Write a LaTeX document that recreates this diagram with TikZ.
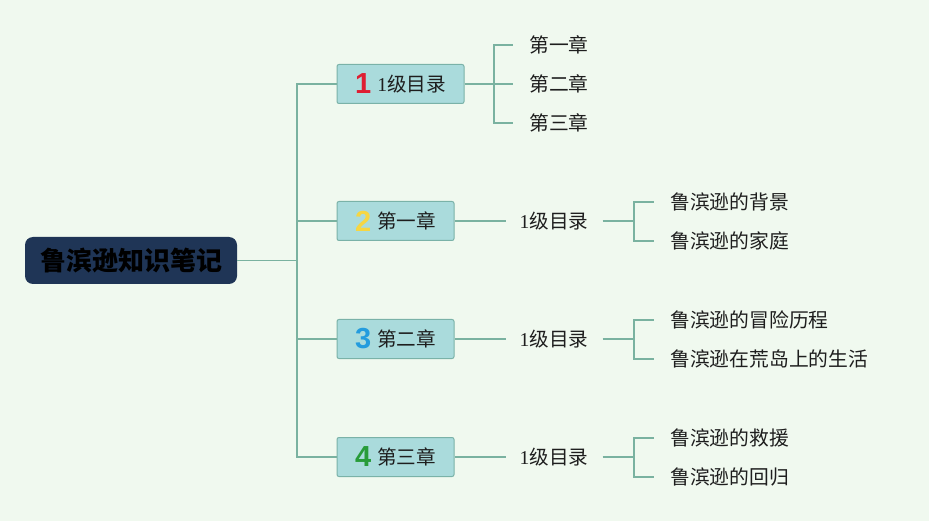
\documentclass[tikz,border=0pt]{standalone}
\usepackage{fontspec}
\setmainfont{Liberation Serif}
\newfontfamily\cjk{Noto Sans CJK SC}
\newfontfamily\digitfont{Liberation Sans}
\definecolor{bg}{RGB}{240,249,239}
\definecolor{rootfill}{RGB}{31,53,86}
\definecolor{boxfill}{RGB}{170,219,220}
\definecolor{boxline}{RGB}{122,178,168}
\definecolor{conncol}{RGB}{122,178,160}
\definecolor{txt}{RGB}{30,30,30}
\definecolor{numred}{RGB}{222,30,50}
\definecolor{numyellow}{RGB}{246,214,66}
\definecolor{numblue}{RGB}{36,156,222}
\definecolor{numgreen}{RGB}{40,156,58}
\newcommand{\numicon}[2]{\raisebox{-2.5pt}{\textcolor{#1}{\digitfont\bfseries\fontsize{29}{30}\selectfont #2}}\hspace{6pt}}
\newcommand{\one}{{\rmfamily 1}}
\tikzset{
  rootbox/.style={draw=none, fill=rootfill, rounded corners=8pt, minimum width=212pt, minimum height=47pt,
    text=black, font=\cjk\bfseries\fontsize{26}{30}\selectfont, inner sep=0pt},
  lvlbox/.style={draw=boxline, line width=1pt, fill=boxfill, rounded corners=2pt, minimum height=39pt,
    inner ysep=0pt, inner xsep=0pt, text=txt, font=\cjk\fontsize{19.6}{22}\selectfont},
  midtext/.style={inner xsep=14pt, inner ysep=2pt, text=txt, font=\cjk\fontsize{19.6}{22}\selectfont},
  leaftext/.style={anchor=west, inner xsep=16pt, inner ysep=2pt, text=txt, font=\cjk\fontsize{19.8}{22}\selectfont},
  conn/.style={draw=conncol, line width=1.3pt},
}
\begin{document}
\begin{tikzpicture}[x=1pt,y=-1pt]
\useasboundingbox (0,0) rectangle (929,521);
\fill[bg] (0,0) rectangle (929,521);

% root
\node[rootbox] (root) at (131,260.5) {鲁滨逊知识笔记};

% level-1 boxes
\node[lvlbox, minimum width=127pt] (b1) at (400.5,84) {\numicon{numred}{1}\one 级目录};
\node[lvlbox, minimum width=117pt] (b2) at (395.5,221) {\numicon{numyellow}{2}第一章};
\node[lvlbox, minimum width=117pt] (b3) at (395.5,339) {\numicon{numblue}{3}第二章};
\node[lvlbox, minimum width=117pt] (b4) at (395.5,457) {\numicon{numgreen}{4}第三章};

% trunk
\coordinate (t) at (297,260.5);
\draw[conn] (root.east) -- (t);
\draw[conn] (b1.west) -| (t);
\draw[conn] (b2.west) -| (t);
\draw[conn] (b3.west) -| (t);
\draw[conn] (b4.west) -| (t);

% branch 1
\node[leaftext] (c11) at (513,45) {第一章};
\node[leaftext] (c12) at (513,84) {第二章};
\node[leaftext] (c13) at (513,123) {第三章};
\coordinate (k1) at (494,84);
\draw[conn] (b1.east) -- (c12.west);
\draw[conn] (k1) |- (c11.west);
\draw[conn] (k1) |- (c13.west);

% branch 2
\node[midtext] (m2) at (554,221) {\one 级目录};
\node[leaftext] (c21) at (654,202) {鲁滨逊的背景};
\node[leaftext] (c22) at (654,241) {鲁滨逊的家庭};
\coordinate (k2) at (634,221);
\draw[conn] (b2.east) -- (m2.west);
\draw[conn] (m2.east) -- (k2);
\draw[conn] (k2) |- (c21.west);
\draw[conn] (k2) |- (c22.west);

% branch 3
\node[midtext] (m3) at (554,339) {\one 级目录};
\node[leaftext] (c31) at (654,320) {鲁滨逊的冒险历程};
\node[leaftext] (c32) at (654,359) {鲁滨逊在荒岛上的生活};
\coordinate (k3) at (634,339);
\draw[conn] (b3.east) -- (m3.west);
\draw[conn] (m3.east) -- (k3);
\draw[conn] (k3) |- (c31.west);
\draw[conn] (k3) |- (c32.west);

% branch 4
\node[midtext] (m4) at (554,457) {\one 级目录};
\node[leaftext] (c41) at (654,438) {鲁滨逊的救援};
\node[leaftext] (c42) at (654,477) {鲁滨逊的回归};
\coordinate (k4) at (634,457);
\draw[conn] (b4.east) -- (m4.west);
\draw[conn] (m4.east) -- (k4);
\draw[conn] (k4) |- (c41.west);
\draw[conn] (k4) |- (c42.west);
\end{tikzpicture}
\end{document}
